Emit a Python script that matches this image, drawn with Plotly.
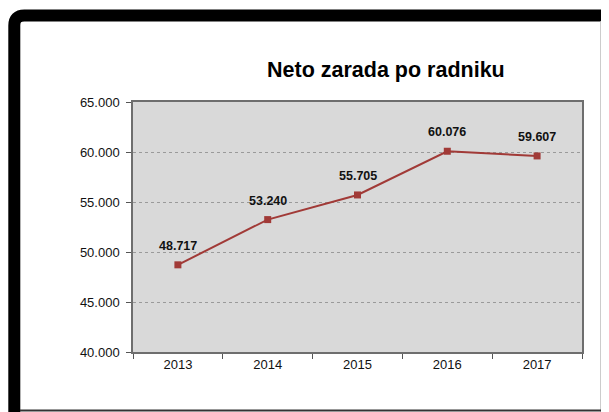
import plotly.graph_objects as go

years = ["2013", "2014", "2015", "2016", "2017"]
values = [48717, 53240, 55705, 60076, 59607]
value_labels = ["48.717", "53.240", "55.705", "60.076", "59.607"]
y_ticks = [40000, 45000, 50000, 55000, 60000, 65000]
y_tick_labels = ["40.000", "45.000", "50.000", "55.000", "60.000", "65.000"]
title_text = "Neto zarada po radniku"

W, H = 609, 412
OFF = 8  # page body margin offset
# desired plot area on screen: x 133..582, y 102..352
L = 133 - OFF
T = 102 - OFF
R = W - (582 - OFF)
B = H - (352 - OFF)
pw, ph = W - L - R, H - T - B

def px(x):  # screen x -> paper
    return (x - OFF - L) / pw

def py(y):  # screen y -> paper
    return (H - B - (y - OFF)) / ph

line_color = "#A13A37"

fig = go.Figure()
fig.add_trace(go.Scatter(
    x=years, y=values, mode="lines+markers",
    line=dict(color=line_color, width=2),
    marker=dict(symbol="square", size=7, color=line_color),
    hoverinfo="skip", showlegend=False,
))

for i, (v, lab) in enumerate(zip(values, value_labels)):
    fig.add_annotation(x=i, y=v, text="<b>" + lab + "</b>", showarrow=False,
                       yshift=19, xanchor="center", yanchor="middle",
                       font=dict(family="Liberation Sans Narrow, Arial Narrow, Liberation Sans", size=12.5, color="#111"))

fig.add_annotation(xref="paper", yref="paper", x=px(386), y=py(70),
                   text="<b>" + title_text + "</b>", showarrow=False,
                   xanchor="center", yanchor="middle",
                   font=dict(family="Liberation Sans, Arial", size=21.5, color="#000"))

# Frame: thick black top & left with rounded corner, thin right & bottom lines
r = 10
path = (f"M {px(14.3)} {py(H + 20)} L {px(14.3)} {py(15.5 + r)} "
        f"Q {px(14.3)} {py(15.5)} {px(14.3 + r)} {py(15.5)} L {px(W + 20)} {py(15.5)}")
fig.add_shape(type="path", xref="paper", yref="paper", path=path,
              line=dict(color="#000", width=12), layer="above")
fig.add_shape(type="line", xref="paper", yref="paper",
              x0=px(601), x1=px(601), y0=py(21), y1=py(H + 20),
              line=dict(color="#bbbbbb", width=1.5))
fig.add_shape(type="line", xref="paper", yref="paper",
              x0=px(20), x1=px(W + 20), y0=py(410.5), y1=py(410.5),
              line=dict(color="#333333", width=2))

fig.update_layout(
    width=W, height=H,
    margin=dict(l=L, r=R, t=T, b=B, autoexpand=False),
    paper_bgcolor="white", plot_bgcolor="#D9D9D9",
    font=dict(family="Liberation Sans, Arial", size=13, color="#111"),
    xaxis=dict(type="category", range=[-0.5, 4.5], autorange=False,
               showline=True, linecolor="#6e6e6e", linewidth=1.5,
               mirror=True, ticks="outside", tickson="boundaries", ticklen=5,
               tickcolor="#555", showgrid=False, zeroline=False, fixedrange=True,
               tickangle=0, automargin=False,
               tickfont=dict(size=13, color="#111")),
    yaxis=dict(range=[40000, 65000], autorange=False, tickvals=y_ticks, ticktext=y_tick_labels,
               showline=True, linecolor="#6e6e6e", linewidth=1.5, mirror=True,
               ticks="outside", ticklen=5, tickcolor="#555", automargin=False,
               showgrid=True, gridcolor="#9a9a9a", griddash="dot", gridwidth=1,
               zeroline=False, ticklabelstandoff=4,
               tickfont=dict(size=13, color="#111")),
)

fig.write_html("out.html")
